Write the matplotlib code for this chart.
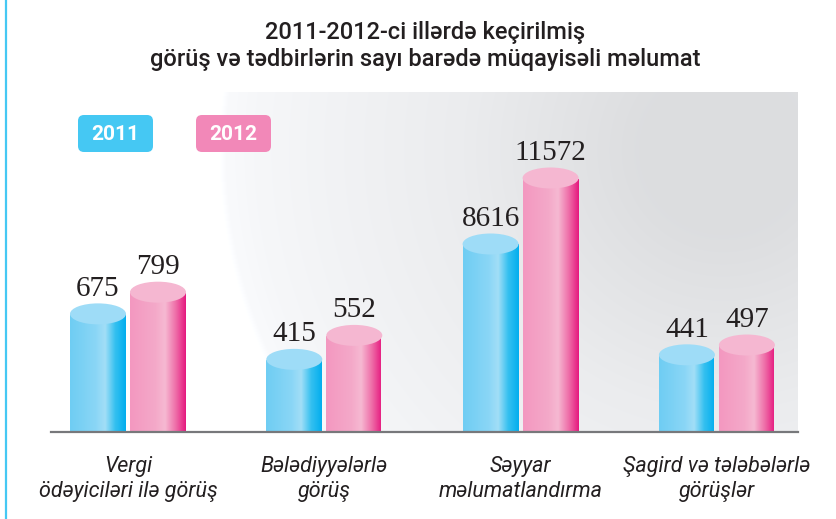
import numpy as np
import matplotlib
matplotlib.use('Agg')
import matplotlib.pyplot as plt
from matplotlib.colors import LinearSegmentedColormap
from matplotlib.patches import Ellipse, FancyBboxPatch
from matplotlib.transforms import ScaledTranslation, blended_transform_factory

title = '2011-2012-ci illərdə keçirilmiş\ngörüş və tədbirlərin sayı barədə müqayisəli məlumat'
categories = ['Vergi\nödəyiciləri ilə görüş', 'Bələdiyyələrlə\ngörüş',
              'Səyyar\nməlumatlandırma', 'Şagird və tələbələrlə\ngörüşlər']
series = ['2011', '2012']
vals_2011 = [675, 415, 8616, 441]
vals_2012 = [799, 552, 11572, 497]

# the picture is not to scale: small values linear, large ones squeezed
scale_v = [0, 800, 8616, 11572, 16000]
scale_px = [0, 140, 188, 254, 353]


def fwd(v):
    return np.interp(v, scale_v, scale_px)


def inv(p):
    return np.interp(p, scale_px, scale_v)


dark = '#231f20'
blue_cm = LinearSegmentedColormap.from_list('b', [(0, '#6fcdf3'), (0.45, '#8ad6f6'), (0.62, '#a2def7'),
                                                  (0.8, '#35c0f0'), (1, '#00adee')])
pink_cm = LinearSegmentedColormap.from_list('p', [(0, '#f398c0'), (0.45, '#f4a9c9'), (0.62, '#f6b9d2'),
                                                  (0.82, '#ee6aa6'), (1, '#e5147d')])
box_cols = ['#45c8f3', '#f288b8']
top_cols = ['#9edcf7', '#f5b7d1']

fig = plt.figure(figsize=(8.36, 5.19), dpi=100)

# background layer in pixel coordinates
bg = fig.add_axes([0, 0, 1, 1], zorder=0)
bg.axis('off')

xx, yy = np.meshgrid(np.arange(51, 798), np.arange(92, 432))
d = np.hypot(xx - 723, yy - 150)
g = np.interp(d, [0, 90, 260, 320, 400, 470, 498, 504],
              [220, 221, 235, 238, 242, 246, 249, 255]) / 255.0
rgb = np.dstack([g, g + 0.004, np.minimum(g + 0.012, 1)])
bg.imshow(rgb, extent=(51, 798, 432, 92), aspect='auto', interpolation='bilinear')
bg.set_xlim(0, 836)
bg.set_ylim(519, 0)

bg.plot([5.5, 5.5], [0, 519], color='#45c8f3', lw=1.6)

bg.text(425, 46, title, ha='center', va='center', fontsize=17, fontweight='medium',
        family='Roboto', color=dark, linespacing=1.2)

for i, name in enumerate(series):
    x0 = 78 + 118 * i
    bg.add_patch(FancyBboxPatch((x0, 115), 75, 37, boxstyle='round,pad=0,rounding_size=6',
                                fc=box_cols[i], ec='none'))
    bg.text(x0 + 37.5, 134, name, ha='center', va='center', color='white',
            fontsize=15, fontweight='bold', family='Roboto')

# main chart
ax = fig.add_axes([0, 87 / 519, 1, 340 / 519], zorder=1)
ax.patch.set_alpha(0)
ax.set_yscale('function', functions=(fwd, inv))

spacing = 196.3
w = 56 / spacing
off = 30 / spacing
grad = np.linspace(0, 1, 256).reshape(1, -1)
blend = blended_transform_factory(ax.transData, ax.transAxes)

for k, vals in enumerate([vals_2011, vals_2012]):
    cm = [blue_cm, pink_cm][k]
    xs = np.arange(len(categories)) + (2 * k - 1) * off
    bars = ax.bar(xs, vals, width=w, color='none', edgecolor='none')
    for b, x, v in zip(bars, xs, vals):
        im = ax.imshow(grad, cmap=cm, aspect='auto', extent=(x - w / 2, x + w / 2, 0, 1),
                       transform=blend, zorder=2, interpolation='bilinear')
        im.set_clip_path(b)
        e = Ellipse((0, 0), 0.56, 0.21, facecolor=top_cols[k], edgecolor='none', zorder=3,
                    transform=fig.dpi_scale_trans + ScaledTranslation(x, v, ax.transData))
        e.set_clip_on(False)
        ax.add_artist(e)
        ax.annotate(str(v), (x, v), xytext=(0, 13), textcoords='offset points',
                    ha='center', va='baseline', family='Liberation Serif', fontsize=21, color=dark)

ax.axhline(0, xmin=51 / 836, xmax=798 / 836, color='#77787b', lw=1.6, zorder=5, clip_on=False)

ax.set_xlim(-128 / spacing, (836 - 128) / spacing)
ax.set_ylim(0, inv(340))
ax.set_xticks(range(len(categories)), categories, fontstyle='italic', fontsize=15.5,
              family='Roboto', color=dark, linespacing=1.3)
ax.tick_params(axis='x', length=0, pad=17)
ax.set_yticks([])
for s in ax.spines.values():
    s.set_visible(False)

fig.savefig('out.png', dpi=100)
